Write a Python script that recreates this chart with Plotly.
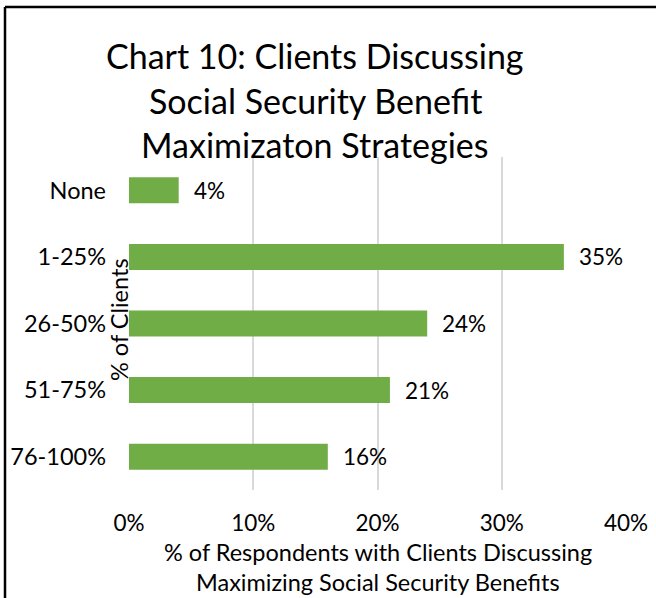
import plotly.graph_objects as go

# Share of respondents by the share of their clients discussing strategies
categories = ["None", "1-25%", "26-50%", "51-75%", "76-100%"]
values = [4, 35, 24, 21, 16]
x_ticks = [0, 10, 20, 30, 40]
x_tick_labels = ["0%", "10%", "20%", "30%", "40%"]

FONT = "Lato"
BAR_GREEN = "#70AD47"
GRID = "#D9D9D9"
TXT = 23.5

W, H = 656, 598
L, R, T, B = 129, 30, 157, 108
pw, ph = W - L - R, H - T - B


def px_x(px):
    return (px - L) / pw


def px_y(py):
    return 1 - (py - T) / ph


fig = go.Figure()
fig.add_trace(go.Bar(
    y=categories,
    x=values,
    orientation="h",
    marker=dict(color=BAR_GREEN, line=dict(width=0)),
    hoverinfo="skip",
))

annotations = []
# value labels beside each bar
for cat, v in zip(categories, values):
    annotations.append(dict(
        x=v, y=cat, xref="x", yref="y", text=f"{v}%",
        showarrow=False, xanchor="left", yanchor="middle", xshift=13,
        font=dict(family=FONT, size=TXT - 1, color="#000000"),
    ))

# chart title
for i, line in enumerate(["Chart 10: Clients Discussing",
                          "Social Security Benefit",
                          "Maximizaton Strategies"]):
    annotations.append(dict(
        x=px_x(315), y=px_y(55 + 45 * i), xref="paper", yref="paper",
        text=line, showarrow=False, xanchor="center", yanchor="middle",
        font=dict(family=FONT, size=34, color="#000000"),
    ))

# x axis title
for i, line in enumerate(["% of Respondents with Clients Discussing",
                          "Maximizing Social Security Benefits"]):
    annotations.append(dict(
        x=px_x(378), y=px_y(552 + 30 * i), xref="paper", yref="paper",
        text=line, showarrow=False, xanchor="center", yanchor="middle",
        font=dict(family=FONT, size=TXT, color="#000000"),
    ))

# y axis title
annotations.append(dict(
    x=px_x(119), y=px_y(320), xref="paper", yref="paper",
    text="% of Clients", showarrow=False, textangle=-90,
    xanchor="center", yanchor="middle",
    font=dict(family=FONT, size=TXT, color="#000000"),
))

shapes = [
    dict(type="line", xref="paper", yref="paper",
         x0=px_x(5), x1=px_x(5), y0=px_y(7), y1=px_y(H + 2),
         line=dict(color="#000000", width=2.5)),
    dict(type="line", xref="paper", yref="paper",
         x0=px_x(5), x1=px_x(W + 2), y0=px_y(7), y1=px_y(7),
         line=dict(color="#000000", width=2.5)),
]

fig.update_layout(
    width=W, height=H,
    margin=dict(l=L, r=R, t=T, b=B, autoexpand=False),
    paper_bgcolor="#FFFFFF", plot_bgcolor="#FFFFFF",
    showlegend=False,
    bargap=0.61,
    annotations=annotations,
    shapes=shapes,
    xaxis=dict(
        range=[0, 40], tickvals=x_ticks, ticktext=x_tick_labels,
        showgrid=True, gridcolor=GRID, gridwidth=2,
        zeroline=False, showline=False, ticks="",
        ticklabelstandoff=17, automargin=False,
        tickfont=dict(family=FONT, size=TXT - 1, color="#000000"),
        fixedrange=True,
    ),
    yaxis=dict(
        autorange="reversed", showgrid=False, zeroline=False,
        showline=False, ticks="", ticklabelstandoff=22, automargin=False,
        tickfont=dict(family=FONT, size=TXT, color="#000000"),
        fixedrange=True,
    ),
)

fig.write_html("out.html")
